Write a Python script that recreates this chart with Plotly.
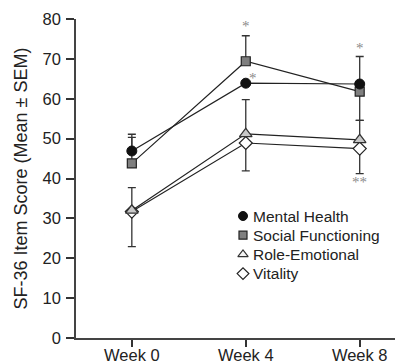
import plotly.graph_objects as go

weeks = ["Week 0", "Week 4", "Week 8"]
week_pos = [0, 1, 2]

mental_health = [46.9, 63.9, 63.7]
social_functioning = [43.8, 69.4, 61.8]
role_emotional = [32.0, 51.2, 49.7]
vitality = [31.7, 48.9, 47.5]

# SEM (upper / lower) as drawn in the figure
mh_err_plus = [4.2, 0, 6.9]
mh_err_minus = [0, 0, 0]
sf_err_plus = [6.5, 6.4, 0]
sf_err_minus = [0, 0, 7.2]
re_err_plus = [5.7, 8.6, 4.9]
re_err_minus = [0, 0, 0]
v_err_plus = [0, 0, 0]
v_err_minus = [8.8, 7.0, 6.3]

star_x = [1, 1.06, 2, 2]
star_y = [78.2, 65.3, 72.8, 39.0]
star_text = ["*", "*", "*", "**"]

series_names = ["Mental Health", "Social Functioning", "Role-Emotional", "Vitality"]

markers = [
    dict(symbol="circle", size=10, color="#111111", line=dict(color="#111111", width=1)),
    dict(symbol="square", size=9, color="#7f7f7f", line=dict(color="#222222", width=1.2)),
    dict(symbol="triangle-up", size=11, color="#c8c8c8", line=dict(color="#333333", width=1.2)),
    dict(symbol="diamond", size=10, color="#ffffff", line=dict(color="#222222", width=1.2)),
]
legend_markers = [
    dict(symbol="circle", size=9, color="#111111", line=dict(color="#111111", width=1)),
    dict(symbol="square", size=8, color="#7f7f7f", line=dict(color="#222222", width=1.2)),
    dict(symbol="triangle-up", size=9, color="#f4f4f4", line=dict(color="#333333", width=1.2)),
    dict(symbol="diamond", size=9, color="#ffffff", line=dict(color="#222222", width=1.2)),
]

values = [mental_health, social_functioning, role_emotional, vitality]
errs_plus = [mh_err_plus, sf_err_plus, re_err_plus, v_err_plus]
errs_minus = [mh_err_minus, sf_err_minus, re_err_minus, v_err_minus]

# the page body has an 8px default margin; compensate so the plot lands where the reference has it
OFF = 8
W, H = 403, 362
ML, MR, MT, MB = 76 - OFF, OFF, 19 - OFF, 24 + OFF

fig = go.Figure()
draw_order = [3, 2, 1, 0]  # vitality first so the triangle sits on top of it
for k in draw_order:
    fig.add_trace(go.Scatter(
        x=week_pos, y=values[k], mode="lines+markers", name=series_names[k],
        line=dict(color="#222222", width=1.2),
        marker=markers[k],
        error_y=dict(type="data", symmetric=False, array=errs_plus[k], arrayminus=errs_minus[k],
                     color="#333333", thickness=1.3, width=4),
        showlegend=False, cliponaxis=False,
    ))

# Legend drawn in page-pixel space on an overlay axis pair
leg_x = 243
leg_y0 = 216
leg_step = 19.2
for i, (name, lm) in enumerate(zip(series_names, legend_markers)):
    fig.add_trace(go.Scatter(x=[leg_x], y=[leg_y0 + i * leg_step], mode="markers",
                             marker=lm, xaxis="x2", yaxis="y2", showlegend=False,
                             hoverinfo="skip", cliponaxis=False))
    fig.add_annotation(x=leg_x + 8, y=leg_y0 + i * leg_step, xref="x2", yref="y2",
                       text=name, showarrow=False, xanchor="left", yanchor="middle",
                       font=dict(size=15.5, color="#222222"))

for sx, sy, st in zip(star_x, star_y, star_text):
    fig.add_annotation(x=sx, y=sy, text=st, showarrow=False,
                       font=dict(family="Liberation Serif", size=15, color="#8a8a8a"))

fig.update_layout(
    template="none",
    width=W, height=H,
    margin=dict(l=ML, r=MR, t=MT, b=MB, pad=0),
    paper_bgcolor="white", plot_bgcolor="white",
    font=dict(family="Liberation Sans, Arial, sans-serif", color="#222222", size=16),
    showlegend=False,
    xaxis=dict(range=[-0.49, 2.38], tickmode="array", tickvals=week_pos, ticktext=weeks,
               showgrid=False, zeroline=False, showline=True, linecolor="#444444",
               linewidth=1.5, ticks="outside", ticklen=7, tickwidth=1.5, tickcolor="#333333",
               tickfont=dict(size=16.5), automargin=False, ticklabelstandoff=-6),
    yaxis=dict(range=[0, 80], tickmode="array", tickvals=[0, 10, 20, 30, 40, 50, 60, 70, 80],
               showgrid=False, zeroline=False, showline=True, linecolor="#444444",
               linewidth=1.5, ticks="outside", ticklen=8, tickwidth=1.5, tickcolor="#333333",
               tickfont=dict(size=16.5), automargin=False, ticklabelstandoff=2,
               title=dict(text="SF-36 Item Score (Mean \u00b1 SEM)", font=dict(size=18), standoff=10)),
    xaxis2=dict(range=[ML + OFF, W - MR + OFF], domain=[0, 1], anchor="y2", overlaying="x",
                visible=False, fixedrange=True),
    yaxis2=dict(range=[H - MB + OFF, MT + OFF], domain=[0, 1], anchor="x2", overlaying="y",
                visible=False, fixedrange=True),
)

fig.write_html("out.html")
